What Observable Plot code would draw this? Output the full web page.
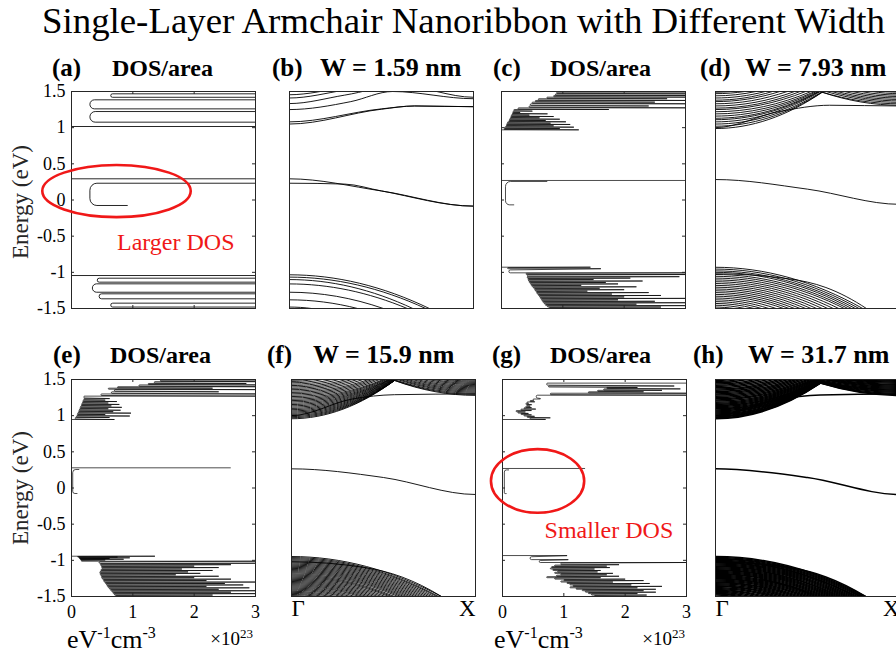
<!DOCTYPE html>
<html>
<head>
<meta charset="utf-8">
<script src="https://cdn.jsdelivr.net/npm/d3@7"></script>
<script src="https://cdn.jsdelivr.net/npm/@observablehq/plot@0.6"></script>
<style>
  html, body { margin: 0; padding: 0; background: #fff; }
  #fig { position: relative; width: 896px; height: 659px; overflow: hidden; background: #fff; }
  #fig svg { position: absolute; overflow: visible; }
</style>
</head>
<body>
<div id="fig"></div>
<script>
// ---------------- labels and ticks ----------------
const figTitle = "Single-Layer Armchair Nanoribbon with Different Width";
const panelTags = ["(a)", "(b)", "(c)", "(d)", "(e)", "(f)", "(g)", "(h)"];
const panelTitles = ["DOS/area", "W = 1.59 nm", "DOS/area", "W = 7.93 nm",
                     "DOS/area", "W = 15.9 nm", "DOS/area", "W = 31.7 nm"];
const energyTicks = [-1.5, -1, -0.5, 0, 0.5, 1, 1.5];
const dosTicks = [0, 1, 2, 3];
const kPoints = [0, 1];
const kLabels = ["Γ", "X"];

// ---------------- DOS traces, [DOS (1e23 /eV/cm^3), energy (eV)] ----------------
// W = 1.59 nm: a few well separated van Hove lobes
const dosA_cond = [[0,1.016],[3.3,1.016],[3.3,1.076],[0.30,1.076],[0.30,1.223],[3.3,1.223],[3.3,1.26],
  [0.30,1.26],[0.30,1.385],[3.3,1.385],[3.3,1.42],[0.64,1.42],[0.64,1.468],[3.3,1.468],[3.3,1.6]];
const dosA_gap = [[0,0.293],[3.3,0.293],[3.3,0.232],[0.30,0.232],[0.30,-0.076],[0.91,-0.076]];
const dosA_val = [[0,-1.044],[3.3,-1.044],[3.3,-1.081],[0.42,-1.081],[0.42,-1.136],[3.3,-1.136],[3.3,-1.159],
  [0.34,-1.159],[0.34,-1.275],[3.3,-1.275],[3.3,-1.297],[0.45,-1.297],[0.45,-1.366],[3.3,-1.366],
  [3.3,-1.426],[0.64,-1.426],[0.64,-1.48],[3.3,-1.48],[3.3,-1.6]];

// dense subband spikes: [energy, DOS floor, DOS peak]
const dosC_cond = [[0.970,0.0,1.26],[0.988,0.04,0.95],[1.007,0.05,1.18],[1.025,0.07,0.85],[1.044,0.08,1.12],
  [1.062,0.09,0.80],[1.081,0.10,1.05],[1.099,0.12,0.72],[1.117,0.13,0.95],[1.136,0.14,0.62],[1.154,0.15,0.85],
  [1.173,0.16,0.55],[1.191,0.17,0.75],[1.209,0.18,0.40],[1.228,0.19,0.60],[1.251,0.20,1.75],[1.274,0.27,3.2],
  [1.30,0.45,2.4],[1.33,0.47,3.2],[1.353,0.50,2.5],[1.376,0.55,3.2],[1.40,0.60,2.7],[1.422,0.74,3.2],
  [1.445,0.85,3.2],[1.468,0.88,3.2],[1.49,0.90,3.2]];
const dosC_val = [[-0.929,0.0,1.45],[-0.950,0.10,1.62],[-1.007,0.12,3.2],[-1.03,0.40,3.2],[-1.06,0.42,2.9],
  [-1.08,0.42,2.1],[-1.10,0.43,1.5],[-1.12,0.44,2.3],[-1.14,0.45,1.7],[-1.16,0.47,1.9],[-1.18,0.48,1.3],
  [-1.20,0.50,2.2],[-1.22,0.52,1.6],[-1.24,0.54,2.0],[-1.26,0.55,1.4],[-1.28,0.57,2.4],[-1.30,0.58,1.8],
  [-1.32,0.60,2.6],[-1.34,0.62,2.0],[-1.36,0.63,3.2],[-1.38,0.65,1.9],[-1.40,0.66,2.5],[-1.42,0.68,3.2],
  [-1.44,0.70,2.2],[-1.46,0.72,3.2],[-1.48,0.75,2.6],[-1.50,0.78,3.2]];
const dosC_gapLine = [[0,0.27],[3.3,0.27]];
const dosC_gapLoop = [[0.74,0.256],[0.065,0.256],[0.065,-0.067],[0.2,-0.067]];

const dosE_cond = [[0.947,0.0,0.70],[0.975,0.06,0.62],[0.995,0.08,0.95],[1.015,0.09,0.55],[1.035,0.10,0.97],
  [1.055,0.11,0.68],[1.075,0.12,0.80],[1.095,0.13,0.60],[1.115,0.14,0.82],[1.135,0.15,0.65],[1.155,0.16,0.78],
  [1.175,0.17,0.60],[1.195,0.18,0.74],[1.215,0.19,0.55],[1.235,0.20,0.70],[1.27,0.20,3.2],[1.30,0.48,3.2],
  [1.33,0.65,2.4],[1.36,0.70,3.2],[1.38,0.60,2.3],[1.40,0.75,3.2],[1.425,1.10,3.2],[1.445,1.25,2.85],
  [1.47,1.35,3.2],[1.49,1.45,3.2]];
const dosE_val = [[-0.943,0.0,1.36],[-0.955,0.10,0.75],[-0.965,0.12,0.95],[-0.975,0.13,0.62],[-0.985,0.14,0.85],
  [-0.995,0.15,0.55],[-1.012,0.16,3.2],[-1.04,0.45,3.2],[-1.06,0.47,2.6],[-1.08,0.48,2.0],[-1.10,0.49,2.4],
  [-1.12,0.50,1.8],[-1.14,0.48,2.3],[-1.16,0.47,1.9],[-1.18,0.46,2.1],[-1.20,0.47,1.7],[-1.22,0.48,2.4],
  [-1.24,0.49,2.0],[-1.26,0.50,2.6],[-1.28,0.52,2.2],[-1.30,0.53,3.2],[-1.32,0.55,2.5],[-1.34,0.57,2.8],
  [-1.36,0.58,2.2],[-1.38,0.60,2.9],[-1.40,0.62,2.4],[-1.42,0.64,3.2],[-1.44,0.66,2.6],[-1.46,0.68,3.2],
  [-1.48,0.70,2.3],[-1.50,0.72,3.2]];
const dosE_gapLine = [[0,0.279],[2.59,0.279]];
const dosE_gapLoop = [[0.12,0.256],[0.02,0.256],[0.02,-0.076],[0.09,-0.076]];

const dosG_cond = [[0.947,0.0,0.78],[0.97,0.45,0.78],[0.99,0.40,0.60],[1.01,0.35,0.55],[1.03,0.30,0.50],
  [1.05,0.25,0.45],[1.07,0.22,0.55],[1.09,0.30,0.62],[1.11,0.35,0.55],[1.13,0.38,0.50],[1.15,0.40,0.55],
  [1.17,0.38,0.45],[1.19,0.40,0.60],[1.21,0.45,0.52],[1.23,0.50,0.68],[1.283,0.55,3.2],[1.31,0.78,3.0],
  [1.33,1.40,2.3],[1.35,1.55,2.6],[1.37,1.65,2.9],[1.39,1.70,2.2],[1.41,0.75,2.8],[1.45,0.72,3.2]];
const dosG_val = [[-0.934,0.0,1.13],[-0.99,0.45,1.15],[-1.03,0.60,3.0],[-1.06,0.95,1.9],[-1.08,0.85,1.7],
  [-1.10,0.80,1.75],[-1.12,0.78,1.5],[-1.14,0.82,1.6],[-1.16,0.90,1.55],[-1.18,0.85,1.8],[-1.20,0.95,1.7],
  [-1.22,0.88,1.9],[-1.24,0.72,1.6],[-1.26,0.85,2.0],[-1.28,1.00,2.3],[-1.30,0.95,1.8],[-1.32,1.05,2.4],
  [-1.34,1.10,2.1],[-1.36,1.15,2.6],[-1.38,1.10,2.2],[-1.40,1.20,2.5],[-1.42,1.30,2.3],[-1.44,1.35,2.5],
  [-1.46,1.40,2.2],[-1.48,1.45,2.35],[-1.50,1.50,2.2]];
const dosG_gapLine = [[0,0.27],[1.34,0.27]];
const dosG_gapLoop = [[0.10,0.25],[0.03,0.25],[0.03,-0.077],[0.06,-0.077]];

// ---------------- band structures, control points [k (Γ=0, X=1), energy (eV)] ----------------
const bandsB = [
  [[0,1.05],[0.5,1.255],[0.68,1.30],[1,1.29]],
  [[0,1.08],[0.5,1.26],[0.68,1.30],[1,1.29]],
  [[0,1.25],[0.333,1.36],[0.56,1.50],[1,1.40]],
  [[0,1.333],[0.3,1.45],[0.6,1.58],[1,1.42]],
  [[0,1.41],[0.3,1.52],[0.6,1.65],[1,1.50]],
  [[0,1.455],[0.3,1.56],[0.6,1.70],[1,1.55]],
  [[0,0.293],[0.5,0.125],[1,-0.085]],
  [[0,0.232],[0.3,0.22],[0.5,0.125],[1,-0.085]],
  [[0,-1.034],[0.76,-1.5]],
  [[0,-1.066],[0.74,-1.5]],
  [[0,-1.10],[0.67,-1.5]],
  [[0,-1.16],[0.64,-1.5]],
  [[0,-1.275],[0.51,-1.5]],
  [[0,-1.38],[0.37,-1.5]],
  [[0,-1.48],[0.12,-1.5]]
];

// conduction subbands rising from Γ: [E(Γ), k where they meet the top / crossing, E there]
const dCond = [[0.988,0.58,1.49],[1.02,0.58,1.49],[1.05,0.575,1.49],[1.08,0.57,1.5],[1.11,0.565,1.5],
  [1.13,0.56,1.5],[1.16,0.55,1.5],[1.19,0.54,1.5],[1.22,0.52,1.5],[1.25,0.49,1.5],[1.27,0.46,1.5],
  [1.30,0.43,1.5],[1.33,0.39,1.5],[1.36,0.35,1.5],[1.38,0.31,1.5],[1.41,0.27,1.5],[1.44,0.22,1.5],
  [1.47,0.16,1.5],[1.49,0.09,1.5]];
// conduction subbands falling towards X: [k start, E start, E(X)]
const dRight = [[0.58,1.49,1.31],[0.58,1.49,1.33],[0.6,1.5,1.35],[0.63,1.5,1.37],[0.66,1.5,1.39],
  [0.70,1.5,1.41],[0.74,1.5,1.43],[0.79,1.5,1.45],[0.85,1.5,1.47],[0.92,1.5,1.49]];
// valence subbands: [E(Γ), k where they leave the window]
const dVal = [[-0.93,0.80],[-0.955,0.78],[-0.98,0.76],[-1.0,0.74],[-1.03,0.72],[-1.055,0.70],[-1.08,0.67],
  [-1.105,0.64],[-1.13,0.61],[-1.155,0.58],[-1.18,0.55],[-1.205,0.52],[-1.23,0.49],[-1.255,0.46],
  [-1.28,0.43],[-1.305,0.40],[-1.33,0.37],[-1.355,0.33],[-1.38,0.29],[-1.405,0.25],[-1.43,0.21],
  [-1.455,0.16],[-1.48,0.10]];
const dSingle = [
  [[0,1.0],[0.35,1.225],[0.62,1.31],[1,1.30]],
  [[0,0.283],[0.5,0.15],[1,-0.06]],
  [[0,-1.02],[0.4,-1.09],[0.6,-1.21],[0.82,-1.5]]
];

const fCond = [[0.957,0.56,1.486],[0.972,0.56,1.486],[0.987,0.56,1.486],[1.002,0.56,1.486],[1.018,0.56,1.488],
  [1.034,0.56,1.49],[1.05,0.558,1.492],[1.066,0.556,1.494],[1.083,0.554,1.496],[1.10,0.552,1.498],
  [1.118,0.55,1.5],[1.136,0.545,1.5],[1.154,0.54,1.5],[1.172,0.535,1.5],[1.19,0.53,1.5],[1.208,0.52,1.5],
  [1.226,0.51,1.5],[1.245,0.50,1.5],[1.264,0.48,1.5],[1.283,0.46,1.5],[1.302,0.44,1.5],[1.321,0.42,1.5],
  [1.34,0.39,1.5],[1.359,0.36,1.5],[1.378,0.33,1.5],[1.397,0.30,1.5],[1.416,0.26,1.5],[1.435,0.22,1.5],
  [1.454,0.17,1.5],[1.473,0.12,1.5],[1.49,0.07,1.5]];
const fRight = [[0.56,1.486,1.28],[0.56,1.488,1.295],[0.565,1.492,1.31],[0.575,1.5,1.325],[0.59,1.5,1.34],
  [0.61,1.5,1.355],[0.63,1.5,1.37],[0.655,1.5,1.385],[0.68,1.5,1.40],[0.71,1.5,1.415],[0.74,1.5,1.43],
  [0.77,1.5,1.445],[0.81,1.5,1.46],[0.85,1.5,1.475],[0.9,1.5,1.49]];
const fVal = [[-0.947,0.815],[-0.962,0.80],[-0.977,0.79],[-0.992,0.775],[-1.007,0.76],[-1.022,0.745],
  [-1.037,0.73],[-1.052,0.715],[-1.067,0.70],[-1.082,0.685],[-1.097,0.67],[-1.112,0.655],[-1.127,0.64],
  [-1.142,0.625],[-1.157,0.61],[-1.172,0.595],[-1.187,0.58],[-1.202,0.56],[-1.217,0.545],[-1.232,0.53],
  [-1.247,0.51],[-1.262,0.49],[-1.277,0.47],[-1.292,0.45],[-1.307,0.43],[-1.322,0.41],[-1.337,0.39],
  [-1.352,0.37],[-1.367,0.345],[-1.382,0.32],[-1.397,0.295],[-1.412,0.27],[-1.427,0.24],[-1.442,0.21],
  [-1.457,0.175],[-1.472,0.14],[-1.487,0.09]];
const fSingle = [
  [[0,1.0],[0.33,1.23],[0.56,1.29],[1,1.30]],
  [[0,0.265],[0.5,0.145],[1,-0.09]],
  [[0,-1.02],[0.4,-1.10],[0.6,-1.23],[0.815,-1.5]]
];

const hCond = [[0.957,0.57,1.45],[0.97,0.57,1.45],[0.983,0.57,1.452],[0.996,0.57,1.455],[1.01,0.57,1.458],
  [1.024,0.57,1.46],[1.038,0.57,1.463],[1.052,0.57,1.466],[1.066,0.57,1.47],[1.08,0.57,1.474],
  [1.095,0.57,1.478],[1.11,0.57,1.482],[1.125,0.57,1.486],[1.14,0.57,1.49],[1.155,0.565,1.495],
  [1.17,0.56,1.5],[1.186,0.55,1.5],[1.202,0.54,1.5],[1.218,0.53,1.5],[1.234,0.515,1.5],[1.25,0.50,1.5],
  [1.267,0.48,1.5],[1.284,0.46,1.5],[1.301,0.44,1.5],[1.318,0.42,1.5],[1.335,0.395,1.5],[1.352,0.37,1.5],
  [1.369,0.345,1.5],[1.386,0.315,1.5],[1.403,0.285,1.5],[1.42,0.25,1.5],[1.437,0.215,1.5],[1.454,0.175,1.5],
  [1.471,0.13,1.5],[1.488,0.08,1.5]];
const hRight = [[0.57,1.45,1.28],[0.57,1.452,1.294],[0.57,1.456,1.308],[0.57,1.46,1.322],[0.57,1.466,1.336],
  [0.57,1.472,1.35],[0.57,1.48,1.364],[0.575,1.49,1.378],[0.585,1.5,1.392],[0.60,1.5,1.406],[0.62,1.5,1.42],
  [0.645,1.5,1.434],[0.67,1.5,1.448],[0.70,1.5,1.462],[0.74,1.5,1.476],[0.79,1.5,1.49]];
const hVal = [[-0.947,0.815],[-0.96,0.805],[-0.973,0.795],[-0.986,0.785],[-0.999,0.772],[-1.012,0.76],
  [-1.025,0.748],[-1.038,0.735],[-1.051,0.722],[-1.064,0.71],[-1.077,0.697],[-1.09,0.684],[-1.103,0.671],
  [-1.116,0.658],[-1.129,0.645],[-1.142,0.632],[-1.155,0.618],[-1.168,0.604],[-1.181,0.59],[-1.194,0.575],
  [-1.207,0.56],[-1.22,0.545],[-1.233,0.53],[-1.246,0.514],[-1.259,0.497],[-1.272,0.48],[-1.285,0.462],
  [-1.298,0.444],[-1.311,0.425],[-1.324,0.405],[-1.337,0.385],[-1.35,0.364],[-1.363,0.342],[-1.376,0.32],
  [-1.389,0.296],[-1.402,0.272],[-1.415,0.246],[-1.428,0.219],[-1.441,0.19],[-1.454,0.16],[-1.467,0.127],
  [-1.48,0.09]];
const hSingle = [
  [[0,1.0],[0.33,1.22],[0.57,1.285],[1,1.30]],
  [[0,0.265],[0.5,0.145],[1,-0.09]],
  [[0,-1.02],[0.4,-1.10],[0.6,-1.23],[0.815,-1.5]]
];

// red call-outs: centre and half-axes in data units
const calloutA = {x: 0.75, E: 0.117, rx: 1.21, rE: 0.36, label: "Larger DOS", lx: 1.70, lE: -0.588};
const calloutG = {x: 0.58, E: 0.09, rx: 0.76, rE: 0.44, label: "Smaller DOS", lx: 1.735, lE: -0.588};

// ---------------- layout ----------------
const SERIF = '"Liberation Serif", "Times New Roman", Times, serif';
const FW = 184, FH = 217;                 // axes frame size
const M = {l: 45, r: 5, t: 5, b: 34};     // plot margins around each frame
const rowTop = [91, 379];
const colLeft = [[70.5, 288.5, 501, 715], [70.5, 290.5, 502, 715]];
const RED = "#f01818";
const INK = "#000";
const WEDGE = 0.3;   // share of the gap to the next spike over which a spike decays
const fig = document.getElementById("fig");

// polyline with rounded corners (radius in px), used for the DOS traces;
// sharp spikes keep their tips because the corner cut is capped
function roundedCurve(radius) {
  return (context) => ({
    pts: [],
    areaStart() {}, areaEnd() {},
    lineStart() { this.pts = []; },
    point(x, y) { this.pts.push([+x, +y]); },
    lineEnd() {
      const p = this.pts;
      if (!p.length) return;
      context.moveTo(p[0][0], p[0][1]);
      for (let i = 1; i < p.length - 1; i++) {
        const [x0, y0] = p[i - 1], [x1, y1] = p[i], [x2, y2] = p[i + 1];
        const l1 = Math.hypot(x1 - x0, y1 - y0), l2 = Math.hypot(x2 - x1, y2 - y1);
        if (l1 < 1e-6 || l2 < 1e-6) { context.lineTo(x1, y1); continue; }
        const cos = ((x0 - x1) * (x2 - x1) + (y0 - y1) * (y2 - y1)) / (l1 * l2);
        const theta = Math.acos(Math.max(-1, Math.min(1, cos)));
        if (theta > Math.PI - 1e-3) { context.lineTo(x1, y1); continue; }
        const tanHalf = Math.tan(theta / 2);
        const dmax = Math.min(l1 / 2, l2 / 2, 1.2 * radius);
        let r = radius;
        if (r / tanHalf > dmax) r = dmax * tanHalf;
        if (r < 0.05) { context.lineTo(x1, y1); continue; }
        context.arcTo(x1, y1, x2, y2, r);
      }
      context.lineTo(p[p.length - 1][0], p[p.length - 1][1]);
    }
  });
}

// monotone Hermite spline whose slope vanishes at Γ and X (band extrema at the zone edges)
function bandCurve(xa, xb) {
  return (context) => ({
    pts: [],
    areaStart() {}, areaEnd() {},
    lineStart() { this.pts = []; },
    point(x, y) { this.pts.push([+x, +y]); },
    lineEnd() {
      const p = this.pts, n = p.length;
      if (!n) return;
      context.moveTo(p[0][0], p[0][1]);
      if (n === 1) return;
      const edge = (x) => Math.abs(x - xa) < 0.6 || Math.abs(x - xb) < 0.6;
      const h = [], s = [];
      for (let i = 0; i < n - 1; i++) {
        h.push(p[i + 1][0] - p[i][0]);
        s.push((p[i + 1][1] - p[i][1]) / h[i]);
      }
      const m = new Array(n).fill(NaN);
      for (let i = 0; i < n; i++) {
        if (edge(p[i][0])) m[i] = 0;
        else if (i > 0 && i < n - 1) {
          const s0 = s[i - 1], s1 = s[i];
          if (s0 * s1 <= 0) m[i] = 0;
          else {
            const q = (s0 * h[i] + s1 * h[i - 1]) / (h[i - 1] + h[i]);
            m[i] = (Math.sign(s0) + Math.sign(s1)) * Math.min(Math.abs(s0), Math.abs(s1), 0.5 * Math.abs(q));
          }
        }
      }
      if (isNaN(m[0])) m[0] = 2 * s[0] - (isNaN(m[1]) ? s[0] : m[1]);
      if (isNaN(m[n - 1])) m[n - 1] = 2 * s[n - 2] - (isNaN(m[n - 2]) ? s[n - 2] : m[n - 2]);
      for (let i = 0; i < n - 1; i++) {
        const [x0, y0] = p[i], [x1, y1] = p[i + 1], d = h[i] / 3;
        context.bezierCurveTo(x0 + d, y0 + m[i] * d, x1 - d, y1 - m[i + 1] * d, x1, y1);
      }
    }
  });
}

// ---------------- data tables ----------------
// each spike runs out along its energy and decays back onto the floor of the next one
const spikesToTrace = (spikes) => spikes.flatMap(([E, floor, peak], i) => {
  const next = spikes[i + 1];
  const v = [[floor, E], [peak, E]];
  if (next) v.push([next[1], E + WEDGE * (next[0] - E)]);
  return v;
});
const traceRows = (traces) => traces.flatMap((t, i) => t.map(([x, E]) => ({x, E, seg: i})));
const bandRows = (bands) => bands.flatMap((b, i) => b.map(([k, E]) => ({k, E, band: i})));
const familyBands = (cond, right, val, single) => [
  ...cond.map(([G, k1, E1]) => [[0, G], [k1, E1]]),
  ...right.map(([k0, E0, X]) => [[k0, E0], [1, X]]),
  ...val.map(([G, k1]) => [[0, G], [k1, -1.5]]),
  ...single
];

// ---------------- panels ----------------
function place(plot, left, top) {
  plot.style.position = "absolute";
  plot.style.left = `${left - M.l}px`;
  plot.style.top = `${top - M.t}px`;
  fig.appendChild(plot);
  return plot;
}

function plotOptions(xDomain, marks) {
  return {
    width: FW + M.l + M.r, height: FH + M.t + M.b,
    marginLeft: M.l, marginRight: M.r, marginTop: M.t, marginBottom: M.b,
    x: {domain: xDomain, axis: null},
    y: {domain: [-1.5, 1.5], axis: null},
    style: {fontFamily: SERIF, color: "#000", background: "transparent", overflow: "visible"},
    marks
  };
}

function dosPanel(row, col, traces, {radius = 2, width = 0.7, yAxis = false, xAxis = false, extra = []} = {}) {
  const marks = [
    Plot.line(traceRows(traces), {x: "x", y: "E", z: "seg", curve: roundedCurve(radius),
      stroke: INK, strokeWidth: width, clip: true}),
    Plot.tickY(energyTicks.slice(1, -1), {y: (d) => d, insetRight: FW - 3, stroke: "#262626"}),
    Plot.tickY(energyTicks.slice(1, -1), {y: (d) => d, insetLeft: FW - 3, stroke: "#262626"}),
    Plot.tickX(dosTicks.slice(1, -1), {x: (d) => d, insetBottom: FH - 3, stroke: "#262626"}),
    Plot.tickX(dosTicks.slice(1, -1), {x: (d) => d, insetTop: FH - 3, stroke: "#262626"}),
    Plot.frame({stroke: "#262626", strokeWidth: 1}),
    ...extra
  ];
  if (yAxis) marks.push(Plot.axisY({ticks: energyTicks, tickSize: 0, tickPadding: 6, fontSize: 18,
    tickFormat: (d) => String(d), label: null}));
  if (xAxis) marks.push(Plot.axisX({ticks: dosTicks, tickSize: 0, tickPadding: 9, fontSize: 18,
    tickFormat: (d) => String(d), label: null}));
  return place(Plot.plot(plotOptions([0, 3], marks)), colLeft[row][col], rowTop[row]);
}

function bandPanel(row, col, bands, {width = 0.9, kAxis = false} = {}) {
  const marks = [
    Plot.line(bandRows(bands), {x: "k", y: "E", z: "band", curve: bandCurve(M.l, M.l + FW),
      stroke: INK, strokeWidth: width, clip: true}),
    Plot.frame({stroke: "#262626", strokeWidth: 1})
  ];
  if (kAxis) {
    marks.push(Plot.text([kPoints[0]], {x: (d) => d, frameAnchor: "bottom", text: () => kLabels[0],
      textAnchor: "start", dy: 19, fontSize: 23}));
    marks.push(Plot.text([kPoints[1]], {x: (d) => d, frameAnchor: "bottom", text: () => kLabels[1],
      textAnchor: "end", dy: 19, fontSize: 23}));
  }
  return place(Plot.plot(plotOptions([0, 1], marks)), colLeft[row][col], rowTop[row]);
}

const calloutText = (c) => Plot.text([c], {x: "lx", y: "lE", text: "label", fill: RED, fontSize: 24, textAnchor: "middle"});

const pA = dosPanel(0, 0, [dosA_cond, dosA_gap, dosA_val], {radius: 7, width: 0.85, yAxis: true,
  extra: [calloutText(calloutA)]});
bandPanel(0, 1, bandsB);
dosPanel(0, 2, [spikesToTrace(dosC_cond), spikesToTrace(dosC_val), dosC_gapLine, dosC_gapLoop], {radius: 5});
bandPanel(0, 3, familyBands(dCond, dRight, dVal, dSingle));
dosPanel(1, 0, [spikesToTrace(dosE_cond), spikesToTrace(dosE_val), dosE_gapLine, dosE_gapLoop],
  {radius: 4, yAxis: true, xAxis: true});
bandPanel(1, 1, familyBands(fCond, fRight, fVal, fSingle), {kAxis: true});
const pG = dosPanel(1, 2, [spikesToTrace(dosG_cond), spikesToTrace(dosG_val), dosG_gapLine, dosG_gapLoop],
  {radius: 4, xAxis: true, extra: [calloutText(calloutG)]});
bandPanel(1, 3, familyBands(hCond, hRight, hVal, hSingle), {width: 1.5, kAxis: true});

// ---------------- overlay: titles, axis names, call-out ellipses ----------------
const NS = "http://www.w3.org/2000/svg";
const over = document.createElementNS(NS, "svg");
over.setAttribute("width", 896); over.setAttribute("height", 659);
over.style.left = "0px"; over.style.top = "0px";
over.setAttribute("font-family", SERIF);
fig.appendChild(over);

function el(name, attrs, parent = over) {
  const e = document.createElementNS(NS, name);
  for (const [k, v] of Object.entries(attrs)) e.setAttribute(k, v);
  parent.appendChild(e);
  return e;
}
function text(x, y, str, attrs = {}) {
  const t = el("text", {x, y, ...attrs});
  t.textContent = str;
  return t;
}

text(42, 33, figTitle, {"font-size": 36, textLength: 843, lengthAdjust: "spacingAndGlyphs", fill: "#000"});

const tagX = [[52, 272, 493, 700], [53, 267, 492, 693]];
const titleX = [[112, 320, 550, 745], [110, 313, 550, 748]];
const titleSize = [24, 26, 24, 26, 24, 26, 24, 26];
const titleY = [76, 363];
panelTags.forEach((tag, i) => {
  const r = Math.floor(i / 4), c = i % 4;
  text(tagX[r][c], titleY[r], tag, {"font-size": 25, "font-weight": "bold"});
  text(titleX[r][c], titleY[r], panelTitles[i], {"font-size": titleSize[i], "font-weight": "bold"});
});

[202, 488].forEach((cy) => {
  text(0, 0, "Energy (eV)", {"font-size": 23, "text-anchor": "middle",
    transform: `translate(28,${cy}) rotate(-90)`, fill: "#262626"});
});

[[67, 253], [494, 685]].forEach(([ux, mx]) => {
  const u = text(ux, 648, "eV", {"font-size": 26});
  el("tspan", {dy: -10, "font-size": 16}, u).textContent = "-1";
  el("tspan", {dy: 10}, u).textContent = "cm";
  el("tspan", {dy: -10, "font-size": 16}, u).textContent = "-3";
  const s = text(mx, 645, "×10", {"font-size": 19, "text-anchor": "end"});
  el("tspan", {dy: -7, "font-size": 13}, s).textContent = "23";
});

function ellipse(plot, c) {
  const sx = plot.scale("x"), sy = plot.scale("y");
  const ox = parseFloat(plot.style.left), oy = parseFloat(plot.style.top);
  el("ellipse", {
    cx: ox + sx.apply(c.x), cy: oy + sy.apply(c.E),
    rx: Math.abs(sx.apply(c.x + c.rx) - sx.apply(c.x)),
    ry: Math.abs(sy.apply(c.E + c.rE) - sy.apply(c.E)),
    fill: "none", stroke: RED, "stroke-width": 2.6
  });
}
ellipse(pA, calloutA);
ellipse(pG, calloutG);
</script>
</body>
</html>
